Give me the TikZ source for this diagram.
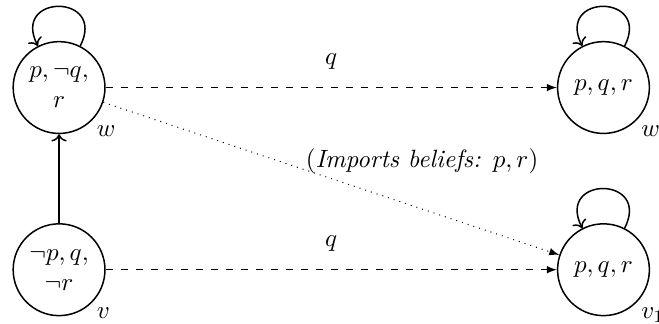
\documentclass[tikz,border=0pt]{standalone}
\usetikzlibrary{arrows.meta}

\begin{document}
\begin{tikzpicture}[x=1mm,y=1mm,
  world/.style={draw,circle,semithick,minimum size=12.9mm,inner sep=0pt,align=center},
  every label/.style={label distance=-0.8mm},
  refl/.style={->,semithick}]
  \useasboundingbox (0,0) rectangle (92.6,45.5);
  % worlds
  \node[world,label=below right:$w$] (w) at (8.3,33.2) {$p,\neg q,$\\$r$};
  \node[world,label=below right:$v$] (v) at (8.3,7.6) {$\neg p,q,$\\$\neg r$};
  \node[world,label=below right:$w_1$] (w1) at (84.8,33.2) {$p,q,r$};
  \node[world,label=below right:$v_1$] (v1) at (84.8,7.6) {$p,q,r$};
  % reflexive loops
  \foreach \n in {w,w1,v1} {
    \draw[refl] (\n.63) .. controls +(63:8.3mm) and +(117:8.3mm) .. (\n.117);
  }
  \draw[->,semithick] (v) -- (w);
  \draw[dashed,-latex] (w) -- node[above=1.3mm] (qw) {$q$} (w1);
  \draw[dashed,-latex] (v) -- node[above=1.3mm] (qv) {$q$} (v1);
  \draw[dotted,-latex] (w) -- (v1);
  \node (imp) at (59.3,22.8) {$(\textit{Imports beliefs: } p,r)$};
\end{tikzpicture}
\end{document}
